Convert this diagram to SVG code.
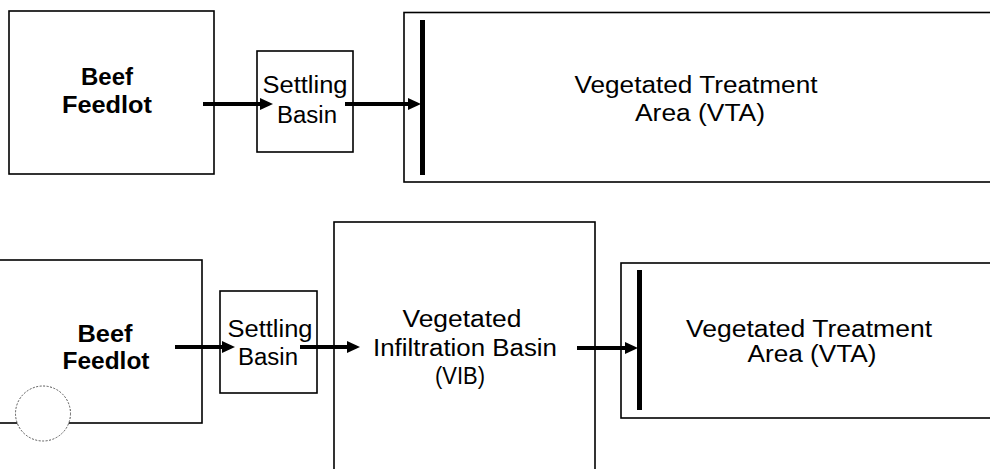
<svg xmlns="http://www.w3.org/2000/svg" width="990" height="469" viewBox="0 0 990 469">
<style>
.box{fill:#fff;stroke:#000;stroke-width:1.6}
.bar{fill:#000}
.t{font-family:"Liberation Sans",Arial,sans-serif;font-size:23px;fill:#000;text-anchor:middle}
.b{font-weight:bold}
.con{stroke:#000;stroke-width:4;fill:none}
.circ{fill:#fff;stroke:#555;stroke-width:1;stroke-dasharray:2 1.5}
</style>
<defs>
<marker id="ah" markerUnits="userSpaceOnUse" markerWidth="13" markerHeight="13" refX="0" refY="6" orient="auto">
<path d="M0,0 L13,6 L0,12 z" fill="#000"/>
</marker>
</defs>
<rect width="990" height="469" fill="#fff"/>

<g id="feedlot1">
<rect class="box" x="9" y="11" width="205" height="163"/>
<text class="t b" x="107" y="85" textLength="52" lengthAdjust="spacingAndGlyphs">Beef</text>
<text class="t b" x="107" y="113" textLength="90" lengthAdjust="spacingAndGlyphs">Feedlot</text>
</g>
<g id="settling1">
<rect class="box" x="257" y="51" width="96" height="101"/>
<text class="t" x="305" y="93" textLength="85" lengthAdjust="spacingAndGlyphs">Settling</text>
<text class="t" x="307" y="123" textLength="60" lengthAdjust="spacingAndGlyphs">Basin</text>
</g>
<g id="vta1">
<rect class="box" x="404" y="12.5" width="600" height="169.5"/>
<rect class="bar" x="420" y="20" width="5" height="155"/>
<text class="t" x="696" y="93" textLength="243" lengthAdjust="spacingAndGlyphs">Vegetated Treatment</text>
<text class="t" x="700" y="121" textLength="130" lengthAdjust="spacingAndGlyphs">Area (VTA)</text>
</g>

<g id="feedlot2">
<rect class="box" x="-5" y="260" width="207" height="163"/>
<circle class="circ" cx="43" cy="413.5" r="27.5"/>
<text class="t b" x="105" y="342" textLength="55" lengthAdjust="spacingAndGlyphs">Beef</text>
<text class="t b" x="106" y="369" textLength="87" lengthAdjust="spacingAndGlyphs">Feedlot</text>
</g>
<g id="settling2">
<rect class="box" x="220" y="291" width="97" height="102"/>
<text class="t" x="270" y="337" textLength="85" lengthAdjust="spacingAndGlyphs">Settling</text>
<text class="t" x="268" y="365" textLength="60" lengthAdjust="spacingAndGlyphs">Basin</text>
</g>
<g id="vib">
<rect class="box" x="334" y="222" width="261" height="260"/>
<text class="t" x="462" y="327" textLength="119" lengthAdjust="spacingAndGlyphs">Vegetated</text>
<text class="t" x="465" y="356" textLength="184" lengthAdjust="spacingAndGlyphs">Infiltration Basin</text>
<text class="t" x="460" y="384" textLength="50" lengthAdjust="spacingAndGlyphs">(VIB)</text>
</g>
<g id="vta2">
<rect class="box" x="621" y="263" width="400" height="155"/>
<rect class="bar" x="637" y="270" width="5" height="140"/>
<text class="t" x="809" y="337" textLength="246" lengthAdjust="spacingAndGlyphs">Vegetated Treatment</text>
<text class="t" x="812" y="362" textLength="129" lengthAdjust="spacingAndGlyphs">Area (VTA)</text>
</g>

<g id="connectors">
<line class="con" x1="203" y1="104" x2="260" y2="104" marker-end="url(#ah)"/>
<line class="con" x1="345" y1="104" x2="408" y2="104" marker-end="url(#ah)"/>
<line class="con" x1="175" y1="347" x2="222" y2="347" marker-end="url(#ah)"/>
<line class="con" x1="300" y1="347" x2="347" y2="347" marker-end="url(#ah)"/>
<line class="con" x1="577" y1="348" x2="625" y2="348" marker-end="url(#ah)"/>
</g>
</svg>
